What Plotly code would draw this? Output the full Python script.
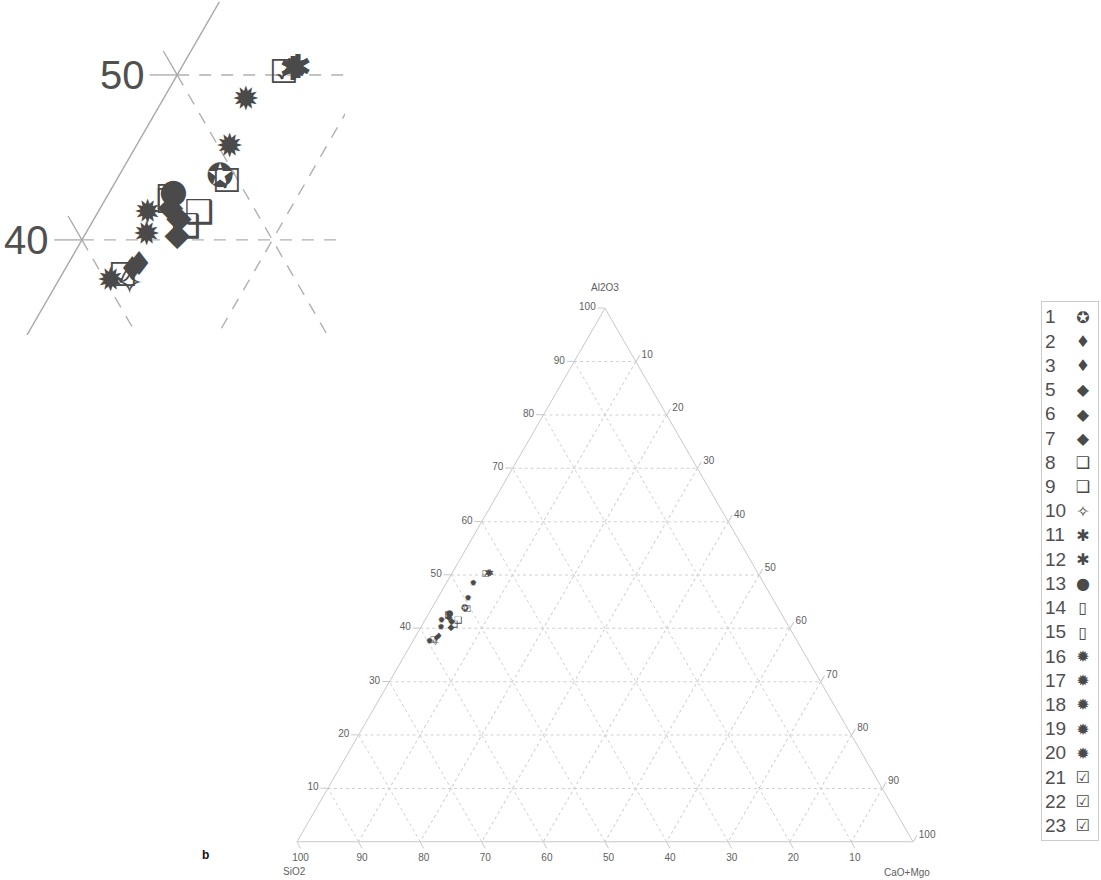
import math
import plotly.graph_objects as go

# ---------------- data ----------------
samples = ["1", "2", "3", "5", "6", "7", "8", "9", "10", "11", "12",
           "13", "14", "15", "16", "17", "18", "19", "20", "21", "22", "23"]
glyphs = ["✪", "♦", "♦", "◆", "◆", "◆", "❑", "❑", "✧", "✱", "✱",
          "●", "▯", "▯", "✹", "✹", "✹", "✹", "✹", "☑", "☑", "☑"]
al2o3 = [43.7, 38.4, 38.1, 41.9, 41.2, 40.2, 41.5, 40.7, 37.2, 50.3, 50.2,
         42.8, 42.6, 42.4, 48.4, 45.5, 41.5, 40.2, 37.4, 50.0, 43.4, 37.7]
cao_mgo = [5.4, 3.8, 3.6, 3.7, 4.5, 4.9, 5.4, 5.1, 3.9, 6.2, 6.0,
           3.4, 3.0, 3.1, 4.4, 5.0, 2.7, 3.3, 2.8, 5.6, 5.9, 3.3]
sio2 = [50.9, 57.8, 58.3, 54.4, 54.3, 54.9, 53.1, 54.2, 58.9, 43.5, 43.8,
        53.8, 54.4, 54.5, 47.2, 49.5, 55.8, 56.5, 59.8, 44.4, 50.7, 59.0]

axis_ticks = [10, 20, 30, 40, 50, 60, 70, 80, 90, 100]
inset_a_grid = [40, 50]       # Al2O3 gridlines shown in the zoom
inset_b_grid = [50, 60]       # SiO2 gridlines shown in the zoom
inset_c_grid = [10]           # CaO+MgO gridlines shown in the zoom

INK = "#4a4a4a"
GRID = "#cfcfcf"
EDGE = "#c8c8c8"
TXT = "#606060"


def tern_xy(a, b, c):
    s = a + b + c
    return (c + a / 2.0) / s * 100.0, a * math.sqrt(3) / 2.0 / s * 100.0


fig = go.Figure()

# ---------------- main ternary ----------------
for s, g, a, b, c in zip(samples, glyphs, al2o3, sio2, cao_mgo):
    fig.add_trace(go.Scatterternary(
        a=[a], b=[b], c=[c], mode="text", text=[g], name=s,
        textposition="middle center",
        textfont=dict(family="DejaVu Sans", size=9, color=INK),
        showlegend=False, hoverinfo="name"))

axis_common = dict(
    tickvals=axis_ticks, ticks="outside", ticklen=7, tickcolor=EDGE,
    linecolor=EDGE, linewidth=1, showgrid=True, gridcolor=GRID,
    griddash="3px,3px", gridwidth=1,
    tickfont=dict(family="Liberation Sans, Arial", size=10, color=TXT),
)
title_font = dict(family="Liberation Sans, Arial", size=10, color=TXT)

fig.update_layout(ternary=dict(
    sum=100,
    domain=dict(x=[297 / 1101, 913 / 1101], y=[38 / 880, 572 / 880]),
    bgcolor="white",
    aaxis=dict(title=dict(text="Al2O3", font=title_font), **axis_common),
    baxis=dict(title=dict(text=""), **axis_common),
    caxis=dict(title=dict(text=""), **axis_common),
))
# corner titles for SiO2 and CaO+Mgo placed as in the reference
fig.add_annotation(x=294 / 1101, y=(880 - 871) / 880, xref="paper", yref="paper",
                   text="SiO2", showarrow=False, xanchor="center", yanchor="middle",
                   font=title_font)
fig.add_annotation(x=907 / 1101, y=(880 - 872) / 880, xref="paper", yref="paper",
                   text="CaO+Mgo", showarrow=False, xanchor="center", yanchor="middle",
                   font=title_font)

# ---------------- zoomed inset (cartesian view of the ternary) ----------------
LONG = 200


def add_line(p0, p1, dash, color, width):
    x0, y0 = tern_xy(*p0)
    x1, y1 = tern_xy(*p1)
    fig.add_trace(go.Scatter(x=[x0, x1], y=[y0, y1], mode="lines",
                             line=dict(color=color, width=width, dash=dash),
                             xaxis="x", yaxis="y", showlegend=False,
                             hoverinfo="skip"))


# solid SiO2–Al2O3 edge (CaO+MgO = 0)
add_line((0, 100, 0), (100, 0, 0), "solid", "#a8a8a8", 1.4)
# dashed gridlines
for av in inset_a_grid:
    add_line((av, 100 - av, 0), (av, 100 - av - LONG, LONG), "12px,10px", "#b0b0b0", 1.4)
for bv in inset_b_grid:
    add_line((100 - bv, bv, 0), (100 - bv - LONG, bv, LONG), "12px,10px", "#b0b0b0", 1.4)
for cv in inset_c_grid:
    add_line((0, 100 - cv, cv), (100 - cv, 0, cv), "12px,10px", "#b0b0b0", 1.4)

# tick marks and labels on the edge in the inset
TL = 1.45
for av in inset_a_grid:
    ex, ey = tern_xy(av, 100 - av, 0)
    fig.add_trace(go.Scatter(x=[ex - TL, ex], y=[ey, ey], mode="lines",
                             line=dict(color="#a8a8a8", width=1.3),
                             xaxis="x", yaxis="y", showlegend=False, hoverinfo="skip"))
    fig.add_trace(go.Scatter(x=[ex - TL / 2, ex], y=[ey + TL * math.sqrt(3) / 2, ey],
                             mode="lines", line=dict(color="#a8a8a8", width=1.3),
                             xaxis="x", yaxis="y", showlegend=False, hoverinfo="skip"))
    fig.add_annotation(x=ex - TL - 0.15, y=ey, xref="x", yref="y", text=str(av),
                       showarrow=False, xanchor="right", yanchor="middle",
                       font=dict(family="Liberation Sans, Arial", size=40, color="#505050"))

inset_x, inset_y = zip(*[tern_xy(a, b, c) for a, b, c in zip(al2o3, sio2, cao_mgo)])
for s, g, x, y in zip(samples, glyphs, inset_x, inset_y):
    fig.add_trace(go.Scatter(x=[x], y=[y], mode="text", text=[g], name=s,
                             textposition="middle center",
                             textfont=dict(family="DejaVu Sans", size=33, color=INK),
                             xaxis="x", yaxis="y", showlegend=False, hoverinfo="name"))

# ---------------- custom legend (label then symbol) ----------------
rows = [-i for i in range(len(samples))]
fig.add_trace(go.Scatter(x=[3] * len(samples), y=rows, mode="text", text=samples,
                         textposition="middle right",
                         textfont=dict(family="Liberation Sans, Arial", size=19, color="#505050"),
                         xaxis="x2", yaxis="y2", showlegend=False, hoverinfo="skip"))
fig.add_trace(go.Scatter(x=[41] * len(samples), y=rows, mode="text", text=glyphs,
                         textposition="middle center",
                         textfont=dict(family="DejaVu Sans", size=16, color=INK),
                         xaxis="x2", yaxis="y2", showlegend=False, hoverinfo="skip"))

hidden = dict(showgrid=False, zeroline=False, showticklabels=False, ticks="")
fig.update_layout(
    xaxis=dict(domain=[20 / 1101, 345 / 1101], range=[16.75, 33.81], anchor="y", **hidden),
    yaxis=dict(domain=[545 / 880, 878 / 880], range=[29.65, 47.13], anchor="x", **hidden),
    xaxis2=dict(domain=[1042 / 1101, 1098 / 1101], range=[0, 56], anchor="y2",
                showline=True, mirror=True, linecolor="#cccccc", linewidth=1, **hidden),
    yaxis2=dict(domain=[40 / 880, 578 / 880], range=[-21.52, 0.69], anchor="x2",
                showline=True, mirror=True, linecolor="#cccccc", linewidth=1, **hidden),
)

fig.add_annotation(x=205 / 1101, y=25 / 880, xref="paper", yref="paper", text="<b>b</b>",
                   showarrow=False, xanchor="center", yanchor="middle",
                   font=dict(family="Liberation Sans, Arial", size=12, color="#111111"))

fig.update_layout(width=1101, height=880, margin=dict(l=0, r=0, t=0, b=0),
                  paper_bgcolor="white", plot_bgcolor="white", showlegend=False)

fig.write_html("out.html", config={"displayModeBar": False},
               post_script="document.body.style.margin='0';document.body.style.overflow='hidden';")
